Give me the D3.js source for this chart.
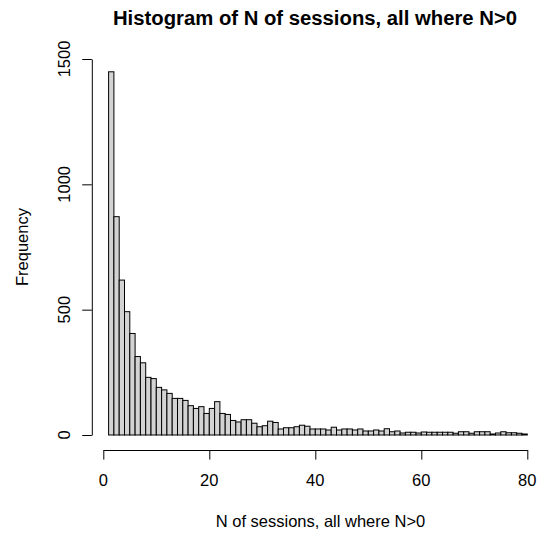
<!DOCTYPE html>
<html>
<head>
<meta charset="utf-8">
<script src="https://cdn.jsdelivr.net/npm/d3@7"></script>
<style>
  html, body { margin: 0; padding: 0; background: #fff; }
  svg { display: block; }
  text { font-family: "Liberation Sans", Arial, sans-serif; fill: #000; }
</style>
</head>
<body>
<svg id="chart" width="538" height="535"></svg>
<script>
// Histogram bins: (start, start+1], counts
const binStarts = d3.range(1, 80);
const counts = [
  1449, 871, 618, 492, 405, 313, 288, 230, 225, 190,
  180, 166, 146, 146, 138, 117, 106, 113, 86, 106,
  133, 86, 82, 58, 52, 61, 61, 47, 33, 37,
  55, 50, 24, 29, 29, 33, 39, 35, 24, 24,
  24, 20, 31, 20, 24, 24, 20, 24, 16, 16,
  20, 16, 25, 13, 16, 8, 11, 11, 8, 12,
  11, 11, 11, 11, 11, 7, 13, 13, 7, 13,
  13, 13, 4, 8, 13, 9, 9, 7, 4
];
const xTicks = [0, 20, 40, 60, 80];
const yTicks = [0, 500, 1000, 1500];
const titleText = "Histogram of N of sessions, all where N>0";
const xLabel = "N of sessions, all where N>0";
const yLabel = "Frequency";

const svg = d3.select("#chart");
const x = d3.scaleLinear().domain([0, 80]).range([103.3, 527.3]);
const y = d3.scaleLinear().domain([0, 1500]).range([435, 59]);

const bins = binStarts.map((s, i) => ({ x0: s, x1: s + 1, n: counts[i] }));

svg.append("g").selectAll("rect")
  .data(bins)
  .join("rect")
  .attr("x", d => x(d.x0))
  .attr("width", d => x(d.x1) - x(d.x0))
  .attr("y", d => y(d.n))
  .attr("height", d => y(0) - y(d.n))
  .attr("fill", "#d3d3d3")
  .attr("stroke", "#000")
  .attr("stroke-width", 1);

// x axis
const xAxis = svg.append("g")
  .attr("transform", "translate(0,450)")
  .call(d3.axisBottom(x).tickValues(xTicks).tickSize(9.6).tickSizeOuter(0).tickFormat(d3.format("d")));
xAxis.select(".domain").attr("stroke", "#000");
xAxis.selectAll(".tick line").attr("stroke", "#000");
xAxis.selectAll(".tick text").remove();
svg.append("g").selectAll("text")
  .data(xTicks)
  .join("text")
  .attr("x", d => x(d))
  .attr("y", 486)
  .attr("text-anchor", "middle")
  .attr("font-size", 16.5)
  .text(d => d);

// y axis
const yAxis = svg.append("g")
  .attr("transform", "translate(91.8,0)")
  .call(d3.axisLeft(y).tickValues(yTicks).tickSize(9.6).tickSizeOuter(0));
yAxis.select(".domain").attr("stroke", "#000");
yAxis.selectAll(".tick line").attr("stroke", "#000");
yAxis.selectAll(".tick text").remove();
svg.append("g").selectAll("text")
  .data(yTicks)
  .join("text")
  .attr("transform", d => `translate(70,${y(d)}) rotate(-90)`)
  .attr("text-anchor", "middle")
  .attr("font-size", 16.5)
  .text(d => d);

// labels
svg.append("text")
  .attr("x", 315).attr("y", 25)
  .attr("text-anchor", "middle")
  .attr("font-size", 20.3)
  .attr("font-weight", "bold")
  .text(titleText);

svg.append("text")
  .attr("x", 320.5).attr("y", 527)
  .attr("text-anchor", "middle")
  .attr("font-size", 16.5)
  .text(xLabel);

svg.append("text")
  .attr("transform", "translate(28,247) rotate(-90)")
  .attr("text-anchor", "middle")
  .attr("font-size", 16.5)
  .text(yLabel);
</script>
</body>
</html>
